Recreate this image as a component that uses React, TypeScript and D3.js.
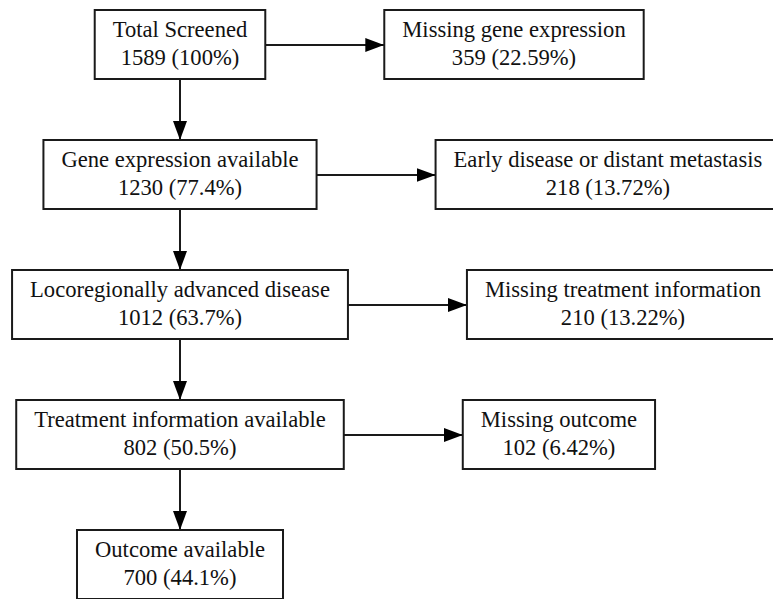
import React, { useEffect, useRef } from 'react';
import * as d3 from 'd3';

// flow data
const mainLabels = [
  'Total Screened',
  'Gene expression available',
  'Locoregionally advanced disease',
  'Treatment information available',
  'Outcome available',
];
const mainCounts = [1589, 1230, 1012, 802, 700];
const mainPcts = ['100%', '77.4%', '63.7%', '50.5%', '44.1%'];

const excludedLabels = [
  'Missing gene expression',
  'Early disease or distant metastasis',
  'Missing treatment information',
  'Missing outcome',
];
const excludedCounts = [359, 218, 210, 102];
const excludedPcts = ['22.59%', '13.72%', '13.22%', '6.42%'];

const W = 773;
const H = 599;
const FONT = '"Liberation Serif", "Times New Roman", serif';
const FS = 22.6;

function App() {
  const ref = useRef<SVGSVGElement | null>(null);

  useEffect(() => {
    const svg = d3.select(ref.current);
    svg.selectAll('*').remove();

    const boxH = 69;
    const pad = 18;
    const mainCx = 180;
    const sideGap = 119;
    const stroke = '#1a1a1a';

    const rowY = d3.scaleLinear().domain([0, mainLabels.length - 1]).range([10, 530]);

    svg.append('defs')
      .append('marker')
      .attr('id', 'head')
      .attr('markerUnits', 'userSpaceOnUse')
      .attr('markerWidth', 19)
      .attr('markerHeight', 14)
      .attr('refX', 19)
      .attr('refY', 7)
      .attr('orient', 'auto')
      .append('path')
      .attr('d', 'M0,0 L19,7 L0,14 Z')
      .attr('fill', '#000');

    // measure text width with the real font
    const probe = svg.append('text')
      .attr('font-family', FONT)
      .attr('font-size', FS)
      .attr('visibility', 'hidden');
    const measure = (s: string) => {
      probe.text(s);
      return (probe.node() as SVGTextElement).getComputedTextLength();
    };

    const drawBox = (x: number, y: number, w: number, l1: string, l2: string) => {
      const g = svg.append('g');
      g.append('rect')
        .attr('x', x).attr('y', y)
        .attr('width', w).attr('height', boxH)
        .attr('fill', '#fff')
        .attr('stroke', stroke)
        .attr('stroke-width', 2);
      [l1, l2].forEach((t, i) => {
        g.append('text')
          .attr('x', x + w / 2)
          .attr('y', y + (i === 0 ? 27 : 55))
          .attr('text-anchor', 'middle')
          .attr('font-family', FONT)
          .attr('font-size', FS)
          .attr('fill', '#111')
          .text(t);
      });
    };

    const arrow = (x1: number, y1: number, x2: number, y2: number) => {
      svg.append('line')
        .attr('x1', x1).attr('y1', y1)
        .attr('x2', x2).attr('y2', y2)
        .attr('stroke', stroke)
        .attr('stroke-width', 2)
        .attr('marker-end', 'url(#head)');
    };

    const mainBoxes = mainLabels.map((label, i) => {
      const l2 = `${mainCounts[i]} (${mainPcts[i]})`;
      const w = Math.max(measure(label), measure(l2)) + pad * 2;
      return { x: mainCx - w / 2, y: rowY(i), w, label, l2 };
    });

    const sideBoxes = excludedLabels.map((label, i) => {
      const l2 = `${excludedCounts[i]} (${excludedPcts[i]})`;
      const w = Math.max(measure(label), measure(l2)) + pad * 2;
      const m = mainBoxes[i];
      return { x: m.x + m.w + sideGap, y: rowY(i), w, label, l2 };
    });
    probe.remove();

    // connectors
    mainBoxes.forEach((m, i) => {
      if (i < mainBoxes.length - 1) {
        arrow(mainCx, m.y + boxH, mainCx, mainBoxes[i + 1].y);
      }
      if (i < sideBoxes.length) {
        arrow(m.x + m.w, m.y + 35, sideBoxes[i].x, m.y + 35);
      }
    });

    mainBoxes.forEach(b => drawBox(b.x, b.y, b.w, b.label, b.l2));
    sideBoxes.forEach(b => drawBox(b.x, b.y, b.w, b.label, b.l2));
  }, []);

  return (
    <svg
      ref={ref}
      width={W}
      height={H}
      style={{ position: 'absolute', left: 0, top: 0, background: '#fff' }}
    />
  );
}

export default App;
